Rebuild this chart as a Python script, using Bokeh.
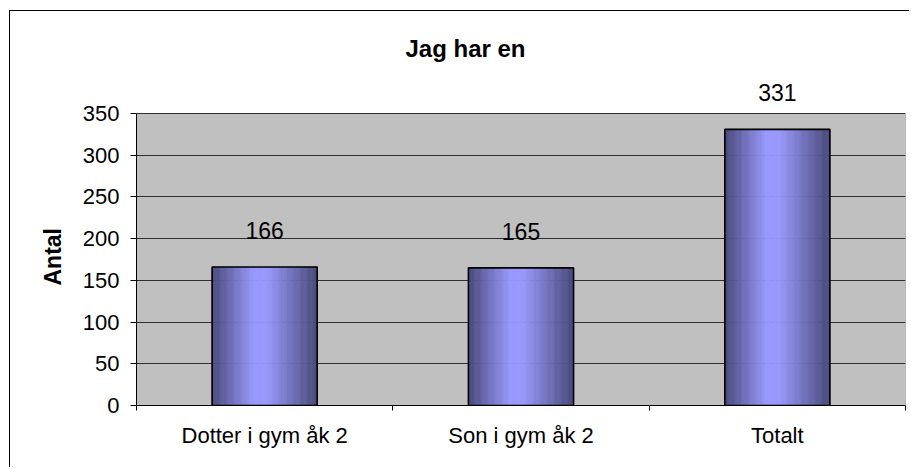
import numpy as np
from bokeh.plotting import figure
from bokeh.models import FixedTicker, ColumnDataSource, Range1d, LabelSet, Label, Title
from bokeh.embed import file_html
from bokeh.resources import INLINE
from bokeh.core.properties import value

# ---- data ----
categories = ["Dotter i gym åk 2", "Son i gym åk 2", "Totalt"]
counts = [166, 165, 331]
y_ticks = [0, 50, 100, 150, 200, 250, 300, 350]
y_max_axis = 350
title_text = "Jag har en"
y_label = "Antal"

FONT = "Liberation Sans"

# ---- layout (pixels) ----
W, H = 900, 457
BORDER_BOTTOM = 63
FRAME_H = H - BORDER_BOTTOM          # frame spans from canvas top to axis
AXIS_AREA_H = 292                    # pixel height of the grey plot area (0..350)
# frame extends above the grey area so the title and top data label fit
y_top = y_max_axis * FRAME_H / AXIS_AREA_H

centers = [i + 0.5 for i in range(len(categories))]
boundaries = list(range(len(categories) + 1))
bar_w = 0.41

# gradient slices (horizontal shading of each bar)
N = 90
dark = np.array([0x48, 0x48, 0x7A], dtype=float)
light = np.array([0x99, 0x99, 0xFF], dtype=float)
xs, tops, ws, cols = [], [], [], []
for c, v in zip(centers, counts):
    for i in range(N):
        t = (i + 0.5) / N
        if t < 0.40:
            f = t / 0.40
        elif t < 0.52:
            f = 1.0
        else:
            f = 1.0 - (t - 0.52) / 0.48
        col = dark + (light - dark) * f
        xs.append(c - bar_w / 2 + t * bar_w)
        tops.append(v)
        ws.append(bar_w / N)
        cols.append("#%02x%02x%02x" % tuple(int(round(k)) for k in col))
slices = ColumnDataSource(dict(x=xs, top=tops, w=ws, color=cols))
bars = ColumnDataSource(dict(x=centers, top=counts, label=[str(v) for v in counts]))

p = figure(width=W, height=H, output_backend="svg", toolbar_location=None,
           x_range=Range1d(0, len(categories)), y_range=Range1d(0, y_top),
           min_border_left=126, min_border_right=5, min_border_top=0,
           min_border_bottom=BORDER_BOTTOM,
           background_fill_color="white", border_fill_color="white",
           outline_line_color=None,
           styles={"border-left": "1px solid black", "border-top": "1px solid black",
                   "margin-left": "9px", "margin-top": "10px"})
p.title.visible = False

# grey plot area
p.quad(left=[0], right=[len(categories)], bottom=[0], top=[y_max_axis],
       fill_color="#C0C0C0", line_color="#808080", line_width=1, level="image")

p.vbar(x="x", top="top", width="w", bottom=0, source=slices,
       fill_color="color", line_color="color", line_width=0.6)
p.vbar(x="x", top="top", width=bar_w, bottom=0, source=bars,
       fill_color=None, line_color="black", line_width=1.6)

labels = LabelSet(x="x", y="top", text="label", source=bars, text_align="center",
                  text_baseline="alphabetic", y_offset=28, text_font=value(FONT),
                  text_font_size="23px", text_color="black")
p.add_layout(labels)

# chart title, centred on the whole chart area
title = Label(x=len(categories) * (465 - 136) / 769, y=y_max_axis, y_offset=65,
              text=title_text, text_align="center", text_baseline="alphabetic",
              text_font=FONT, text_font_size="24px", text_font_style="bold",
              text_color="black")
p.add_layout(title)

# y axis title, centred on the grey area
ytitle = Title(text=y_label, align="left", offset=120, standoff=27,
               text_font=FONT, text_font_size="23px", text_font_style="bold",
               text_color="black")
p.add_layout(ytitle, "left")

# x axis
xa = p.xaxis[0]
xa.ticker = FixedTicker(ticks=centers, minor_ticks=boundaries)
xa.major_label_overrides = {c: lab for c, lab in zip(centers, categories)}
xa.major_tick_line_color = None
xa.major_tick_out = 0
xa.major_tick_in = 0
xa.minor_tick_out = 5
xa.minor_tick_in = 0
xa.minor_tick_line_color = "black"
xa.axis_line_color = "black"
xa.major_label_standoff = 12
xa.major_label_text_font = FONT
xa.major_label_text_font_size = "22px"
xa.major_label_text_color = "black"

# y axis
ya = p.yaxis[0]
ya.ticker = FixedTicker(ticks=y_ticks)
ya.bounds = (0, y_max_axis)
ya.minor_tick_line_color = None
ya.major_tick_out = 6
ya.major_tick_in = 0
ya.major_tick_line_color = "black"
ya.axis_line_color = "black"
ya.major_label_standoff = 11
ya.major_label_text_font = FONT
ya.major_label_text_font_size = "22px"
ya.major_label_text_color = "black"

p.xgrid.grid_line_color = None
p.ygrid.ticker = FixedTicker(ticks=y_ticks)
p.ygrid.grid_line_color = "#303030"
p.ygrid.grid_line_width = 1

open("out.html", "w").write(file_html(p, INLINE))
